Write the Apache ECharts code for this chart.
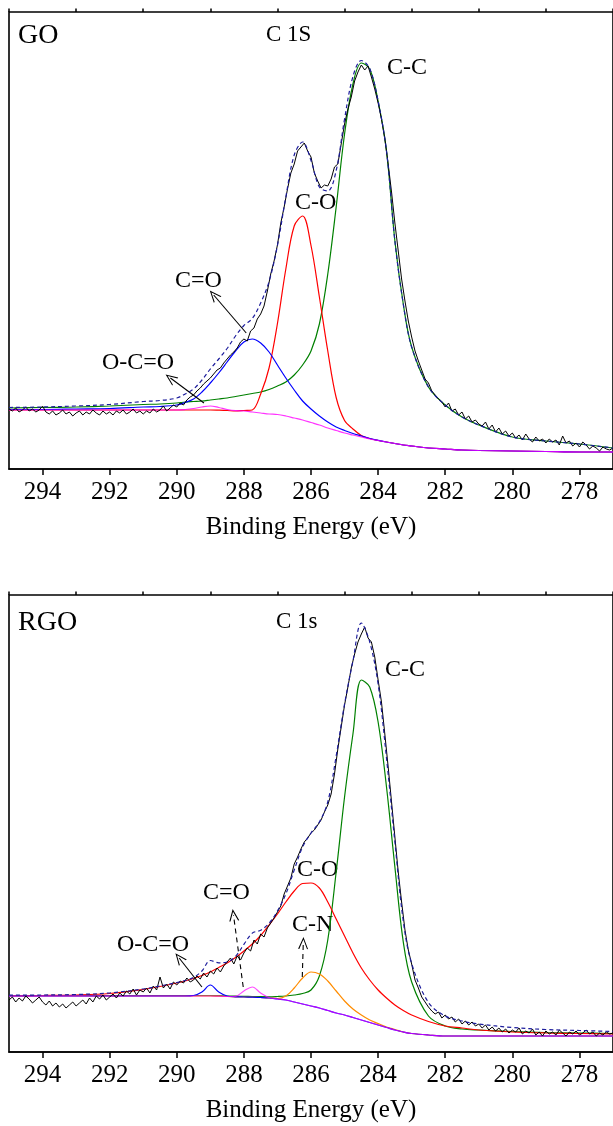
<!DOCTYPE html>
<html>
<head>
<meta charset="utf-8">
<script src="https://cdn.jsdelivr.net/npm/echarts@6/dist/echarts.min.js"></script>
<style>
  html, body { margin: 0; padding: 0; background: #fff; overflow: hidden; }
  #chart { width: 613px; height: 1126px; }
</style>
</head>
<body>
<div id="chart"></div>
<script>
// energy grid for the fitted curves (eV)
const fitEnergy = [295,294,293,292,291,290.5,290,289.75,289.5,289.25,289,288.75,288.5,288.25,288,287.75,287.5,287.25,287,286.75,286.5,286.25,286,285.75,285.5,285.25,285,284.75,284.5,284.25,284,283.75,283.5,283.25,283,282.5,282,281.5,281,280,279,278,277]

// GO panel, fitted components (intensity, a.u.)
const goCC  = [61,61.5,62,63,64.5,65,66,67,67.5,68,69,70,71,72.5,74,75.5,77,79.5,83,87,94,104,118,145,195,262,335,385,406,400,368,318,228,165,122,82,64,52,44,32,28,25,21]
const goCO  = [59,59,59,59,59,59,59,59,59,59,59,58.8,58.5,58,58.5,59,75,101,145.5,200,243,253,223.5,172,118,71.5,48.5,40,33.5,30.5,28.5,27,25.5,24,23,21,20,19,18.5,18,17.5,17,17]
const goCdO = [59.5,59.5,60,60.5,62,62.5,64,66.5,70,77,86,96,107,118,127,130,126,117,104,91,79,68,60,53,47,42,38.5,35.5,33,30.5,28.7,27,25.5,24,23,21,20,19,18.5,18,17.5,17,17]
const goOCO = [59,59,59,59,59,59,59,59.5,60.5,62,63,61.5,59.5,58.3,58,57,56,55,54.5,53,51,49,46.5,44,41,38.5,36,34,32,30,28.5,27,25.5,24,23,21,20,19,18.5,18,17.5,17,17]
const goFit = [61.5,62,63,64.5,67.5,68.5,71,75,80,89,100,110,120.5,133,143.5,150.5,166,187.5,223.5,272,314,327,308.5,282,278,298.5,350,392.5,408.5,400.5,368,318,228,165,122,82,64,52,44,32,28,25,21]

// RGO panel, fitted components
const rgoCC  = [56.5,56.5,56.5,56.5,56.5,56.5,56.5,56.5,56.5,56.5,56.5,56.3,56,55.8,55.6,55.5,55.3,55.2,55.5,56,57,58.5,62,76,112,180,255,318,372,365,330,265,185,110,70,36,26,23,22,20.5,19.5,19,18.5]
const rgoCO  = [56.3,56.5,57,58.5,62.5,65.5,69,71,73.5,76.5,80,84.5,89,94.5,101,108,116.5,127,138,150,161,168.5,169,164,150,133,116,99,84,72,62,54,47,41.5,37,30.5,26,24,22,20,19,18.5,18]
const rgoCN  = [56,56,56,56,56,56,56,56,56,56,56,55.8,55.5,55.2,55,54.8,54.5,54,53.5,56,64,74,80,78,71,61,51,43,37,32,28.5,25,22.5,20,18.5,17,16,16,16,16,16,16,16]
const rgoCdO = [56,56,56,56,56,56,56,56,56,56,56,55.8,55.5,55.7,61,65,59,54.5,53,52,50,48,46,44,41.5,39,37,34.5,32,29.5,27,24.5,22,20,18.5,17,16,16,16,16,16,16,16]
const rgoOCO = [56,56,56,56,56,56,56,56,56.5,60,67,60,56,55.2,55,54.8,54.5,54,53,52,50,48,46,44,41.5,39,37,34.5,32,29.5,27,24.5,22,20,18.5,17,16,16,16,16,16,16,16]
const rgoFit = [56.8,57,57.5,59,63,66,69.5,71.5,74.5,81,91.5,89.2,90,95.6,107.6,118.9,121.8,128.7,141,158,182,205,219,230,250,296,348,391,429,410,368,294,210,131,88.5,49.5,36,31,28,24.5,22.5,21.5,20.5]

// measured spectra, 295.0 eV down to 277.0 eV in 0.1 eV steps
const rawStart = 295
const rawStep = 0.1
const goRaw = [
  60,58,61,57,59,62,58,60,57,59, 63,57,55,58,54,56,59,55,57,53,
  56,58,54,57,55,59,56,54,58,55, 57,54,58,56,59,55,57,60,56,58,
  55,58,56,60,57,59,63,58,61,64, 62,66,64,69,72,74,78,81,85,88,
  91,95,99,101,106,110,114,117,121,127, 130,128,138,141,150,155,163,178,195,208,
  224,246,262,280,296,305,318,322,326,318, 312,296,288,281,284,283,290,302,305,325,
  345,360,372,388,397,404,399,403,392,380, 366,350,330,305,277,246,218,190,168,148,
  132,118,108,99,90,86,78,74,70,67, 62,66,58,60,54,57,50,53,47,49,
  45,43,47,40,44,37,41,35,38,33, 36,31,34,29,35,30,27,32,28,30,
  26,30,27,29,24,33,26,28,23,26, 22,27,24,20,23,21,18,22,20,19, 21
]
const rgoRaw = [
  52,55,50,54,51,56,53,49,52,55, 50,47,51,46,49,45,48,44,47,50,
  46,49,52,48,54,50,56,53,57,52, 55,58,54,59,56,61,58,63,57,62,
  60,64,59,66,62,75,64,68,63,70, 67,71,69,74,70,72,76,73,79,75,
  81,78,84,80,86,90,94,88,96,92, 99,104,101,112,108,118,115,124,129,134,
  140,146,158,166,174,188,195,203,210,214, 219,222,227,232,240,247,258,278,303,325,
  347,365,384,398,410,418,425,414,410,395, 372,350,318,285,250,215,180,150,122,102,
  88,72,64,55,50,45,41,38,40,34, 37,33,35,30,33,28,31,27,30,26,
  28,24,27,22,25,21,24,20,23,19, 22,20,24,18,21,19,23,17,20,16,
  21,18,20,17,22,19,16,20,18,21, 17,19,22,18,20,16,19,17,20,18, 19
]

// tick values
const majorTicks = [294,292,290,288,286,284,282,280,278]
const minorTicks = [295,293,291,289,287,285,283,281,279,277]

// arrows: [from, to] in [eV, intensity]
const goArrows = [
  [[287.93,136],[288.90,174],'solid'],
  [[289.19,66],[290.19,91],'solid']
]
const rgoArrows = [
  [[289.25,65],[289.93,94],'solid'],
  [[288.02,65],[288.31,137],'dashed'],
  [[286.26,75],[286.23,109],'dashed']
]

const serif = '"Liberation Serif", "Times New Roman", serif'
const chevron = 'path://M0,0 L6,12 L4.6,12 L0,2.6 L-4.6,12 L-6,12 Z'

var myChart = echarts.init(document.getElementById('chart'))

function xy(xs, ys) {
  return xs.map((x, i) => [x, ys[i]])
}
function rawData(vals) {
  return vals.map((v, i) => [+(rawStart - i * rawStep).toFixed(1), v])
}

function fitLine(name, vals, color, idx, dashed, opacity) {
  return {
    name: name, type: 'line', xAxisIndex: idx * 2, yAxisIndex: idx,
    data: xy(fitEnergy, vals), showSymbol: false, symbol: 'none',
    smooth: 0.35, silent: true,
    lineStyle: { color: color, width: 1.2, type: dashed ? [4, 3] : 'solid', opacity: opacity || 1 },
    z: dashed ? 5 : 3
  }
}

function rawLine(vals, idx, arrows) {
  return {
    type: 'line', xAxisIndex: idx * 2, yAxisIndex: idx,
    data: rawData(vals), showSymbol: false, symbol: 'none', silent: true,
    lineStyle: { color: '#000', width: 1 }, z: 4,
    markLine: {
      silent: true, animation: false,
      symbol: ['none', chevron], symbolSize: [10, 12],
      label: { show: false },
      data: arrows.map(a => [
        { coord: a[0], lineStyle: { color: '#000', width: 1.1, type: a[2] == 'dashed' ? [5, 4] : 'solid' } },
        { coord: a[1] }
      ])
    }
  }
}

function mainX(idx) {
  return {
    type: 'value', gridIndex: idx, inverse: true, min: 277, max: 295,
    axisLine: { lineStyle: { color: '#000', width: 1.6 } },
    axisTick: { customValues: majorTicks, length: 6, lineStyle: { color: '#000', width: 1.5 } },
    axisLabel: { customValues: majorTicks, color: '#000', fontSize: 25, fontFamily: serif, margin: 11 },
    splitLine: { show: false },
    name: 'Binding Energy (eV)', nameLocation: 'middle', nameGap: 46,
    nameTextStyle: { color: '#000', fontSize: 25, fontFamily: serif }
  }
}
function minorX(idx) {
  return {
    type: 'value', gridIndex: idx, inverse: true, min: 277, max: 295,
    axisLine: { show: false },
    axisTick: { customValues: minorTicks, length: 3.5, lineStyle: { color: '#000', width: 1.5 } },
    axisLabel: { show: false },
    splitLine: { show: false }
  }
}
function yAx(idx) {
  return {
    type: 'value', gridIndex: idx, min: 0, max: 457,
    axisLine: { show: false }, axisTick: { show: false },
    axisLabel: { show: false }, splitLine: { show: false }
  }
}

function txt(s, x, y, size) {
  return {
    type: 'text', x: x, y: y, silent: true,
    style: { text: s, fill: '#000', font: size + 'px ' + serif, textVerticalAlign: 'middle', verticalAlign: 'middle' }
  }
}

const option = {
  animation: false,
  backgroundColor: '#fff',
  grid: [
    { left: 9, top: 12, width: 613.6, height: 457, show: true, borderColor: '#000', borderWidth: 1.6, backgroundColor: 'transparent' },
    { left: 9, top: 595, width: 613.6, height: 457, show: true, borderColor: '#000', borderWidth: 1.6, backgroundColor: 'transparent' }
  ],
  xAxis: [mainX(0), minorX(0), mainX(1), minorX(1)],
  yAxis: [yAx(0), yAx(1)],
  series: [
    // GO
    rawLine(goRaw, 0, goArrows),
    fitLine('C-C', goCC, '#008000', 0),
    fitLine('C-O', goCO, '#ff0000', 0),
    fitLine('C=O', goCdO, '#0000ff', 0),
    fitLine('O-C=O', goOCO, '#ff00ff', 0, false, 0.8),
    fitLine('fit', goFit, '#1c1c9c', 0, true),
    // RGO
    rawLine(rgoRaw, 1, rgoArrows),
    fitLine('C-C', rgoCC, '#008000', 1),
    fitLine('C-O', rgoCO, '#ff0000', 1),
    fitLine('C-N', rgoCN, '#ff8c00', 1),
    fitLine('O-C=O', rgoOCO, '#0000ff', 1),
    fitLine('C=O', rgoCdO, '#ff00ff', 1, false, 0.7),
    fitLine('fit', rgoFit, '#1c1c9c', 1, true)
  ],
  graphic: [
    txt('GO', 18, 36, 28),
    txt('C 1S', 266, 35, 23),
    txt('C-C', 387, 68, 24),
    txt('C-O', 295, 203, 24),
    txt('C=O', 175, 281, 24),
    txt('O-C=O', 102, 363, 24),
    txt('RGO', 18, 623, 28),
    txt('C 1s', 276, 622, 23),
    txt('C-C', 385, 670, 24),
    txt('C-O', 297, 870, 24),
    txt('C=O', 203, 893, 24),
    txt('C-N', 292, 925, 24),
    txt('O-C=O', 117, 945, 24)
  ]
}

myChart.setOption(option)
</script>
</body>
</html>
